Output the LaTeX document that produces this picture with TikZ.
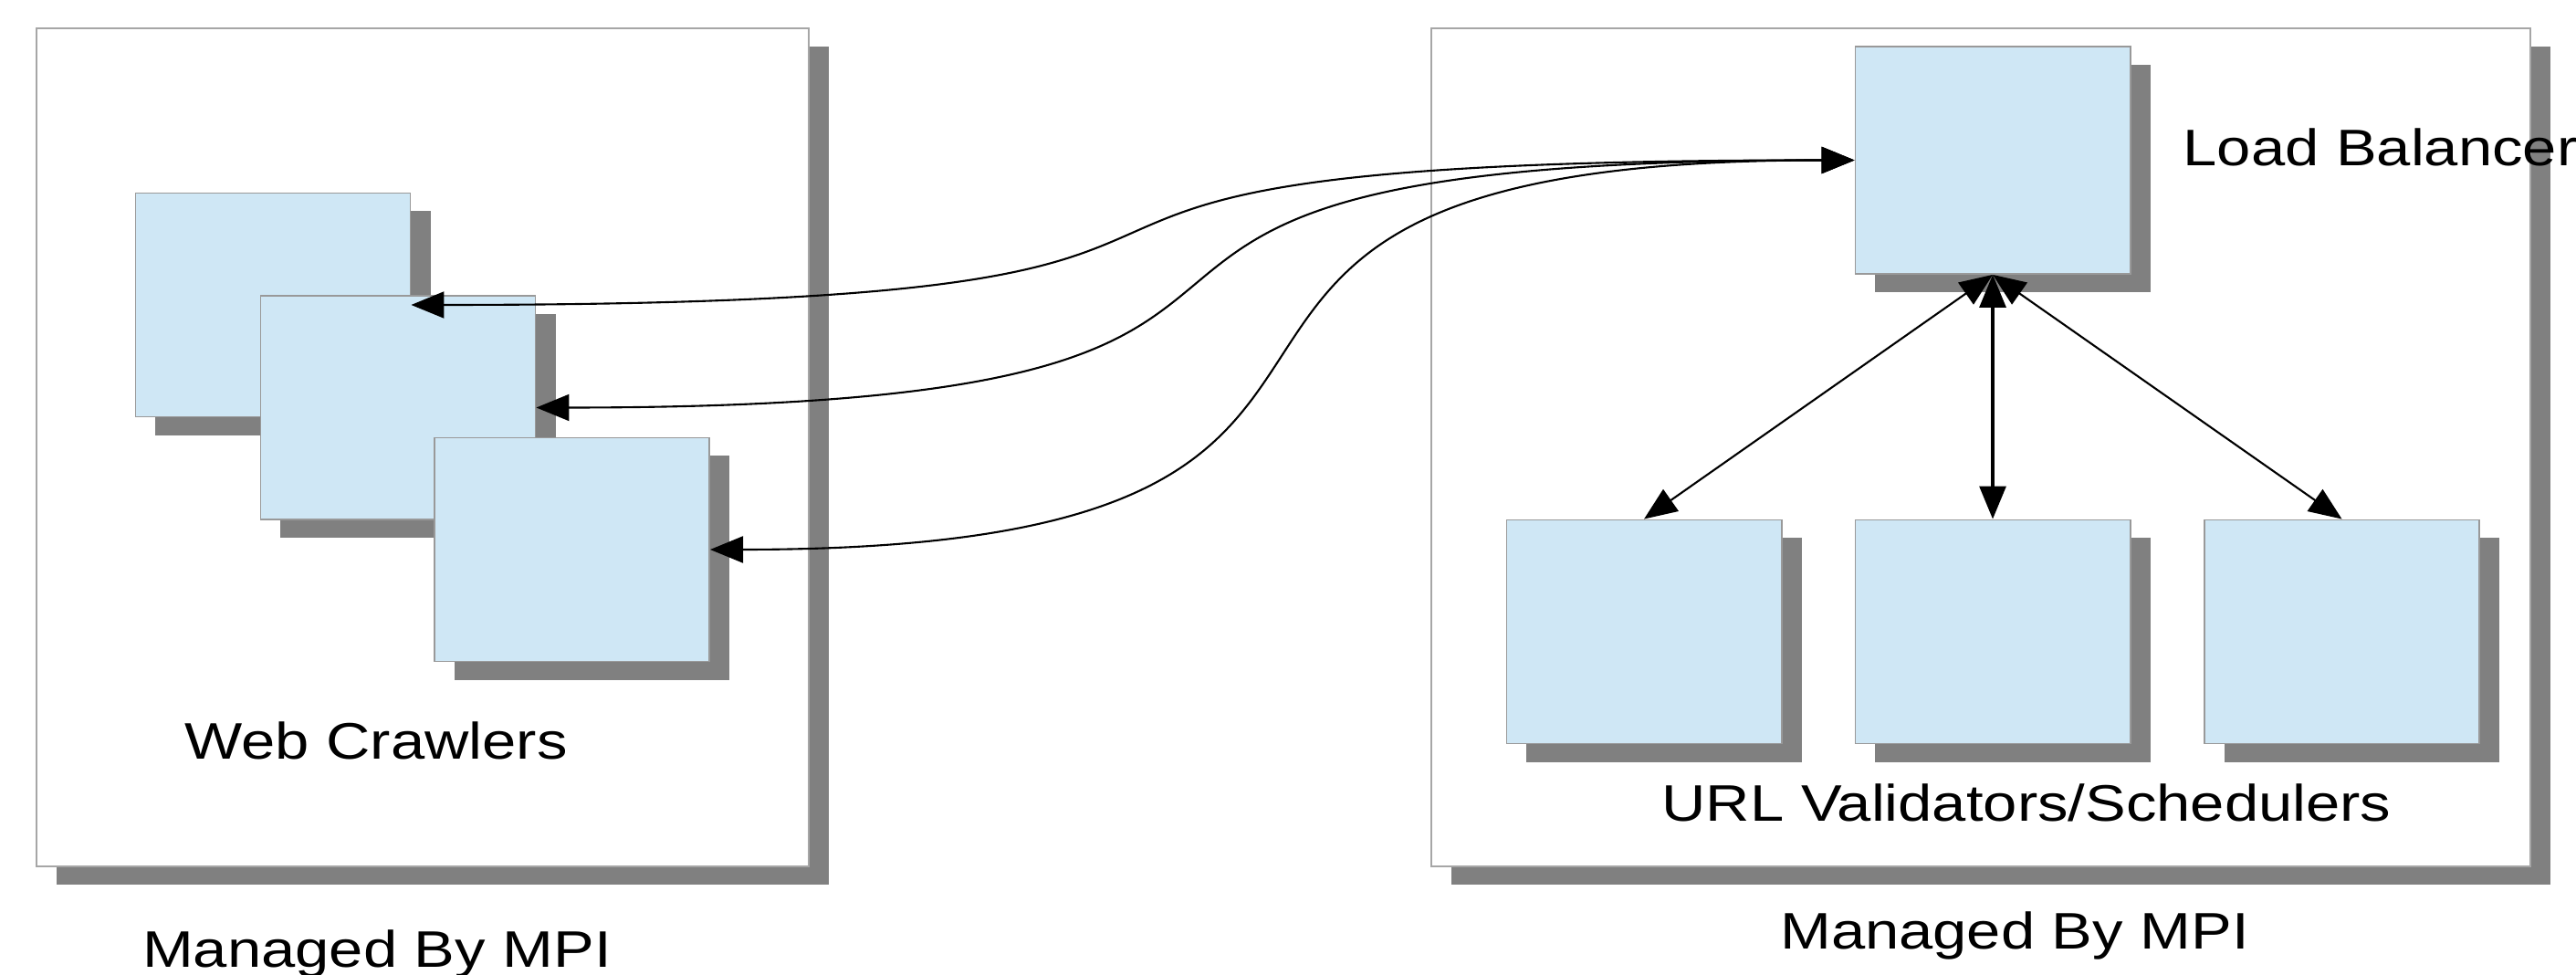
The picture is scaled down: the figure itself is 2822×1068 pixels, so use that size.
\documentclass[tikz,border=0pt]{standalone}
\usepackage{fontspec}
\setmainfont{Liberation Sans}
\usepackage{graphicx}
\usetikzlibrary{arrows.meta,shadows}
\definecolor{boxfill}{RGB}{207,231,245}
\definecolor{shadowgray}{RGB}{128,128,128}
\newcommand{\stretchtxt}[1]{\scalebox{1.19}[1]{#1}}
\begin{document}
\begin{tikzpicture}[x=0.01cm,y=-0.01cm,
  shd/.style={drop shadow={shadow xshift=0.22cm,shadow yshift=-0.20cm,fill=shadowgray,opacity=1}},
  outerbox/.style={draw=black!35,line width=0.6pt,fill=white,shd,inner sep=0pt},
  unitbox/.style={draw=black!40,line width=0.5pt,fill=boxfill,shd,inner sep=0pt,minimum width=3.01cm,minimum height=2.45cm},
  lbl/.style={font=\fontsize{16pt}{19pt}\selectfont,inner sep=0pt,text=black},
  conn/.style={line width=0.6pt,{Triangle[length=0.36cm,width=0.29cm]}-{Triangle[length=0.36cm,width=0.29cm]}}
]
\useasboundingbox (0,0) rectangle (2822,1068);
% outer frames
\node[outerbox,minimum width=8.46cm,minimum height=9.18cm] (left) at (463,490) {};
\node[outerbox,minimum width=12.04cm,minimum height=9.18cm] (right) at (2170,490) {};
% web crawlers
\node[unitbox] (c1) at (299,334) {};
\node[unitbox] (c2) at (436,446.5) {};
\node[unitbox] (c3) at (626.5,602) {};
% load balancer and validators
\node[unitbox,minimum height=2.49cm] (lb) at (2183,175.5) {};
\node[unitbox] (v1) at (1801,692) {};
\node[unitbox] (v2) at (2183,692) {};
\node[unitbox] (v3) at (2565.5,692) {};
% labels
\node[lbl,anchor=base] (twc) at (412,832) {\stretchtxt{Web Crawlers}};
\node[lbl,anchor=base] (tm1) at (413,1060) {\stretchtxt{Managed By MPI}};
\node[lbl,anchor=base] (tm2) at (2207,1040) {\stretchtxt{Managed By MPI}};
\node[lbl,anchor=base] (turl) at (2220,900) {\stretchtxt{URL Validators/Schedulers}};
\node[lbl,anchor=base west] (tlb) at (2391,182) {\stretchtxt{Load Balancer}};
% connectors
\draw[conn] (lb.west) .. controls +(-1187,0) and +(1187,0) .. (c1.east);
\draw[conn] (lb.west) .. controls +(-1084,0) and +(1084,0) .. (c2.east);
\draw[conn] (lb.west) .. controls +(-941,0) and +(941,0) .. (c3.east);
\draw[conn] (lb.south) -- (v1.north);
\draw[conn,line width=0.9pt] (lb.south) -- (v2.north);
\draw[conn] (lb.south) -- (v3.north);
\end{tikzpicture}
\end{document}
